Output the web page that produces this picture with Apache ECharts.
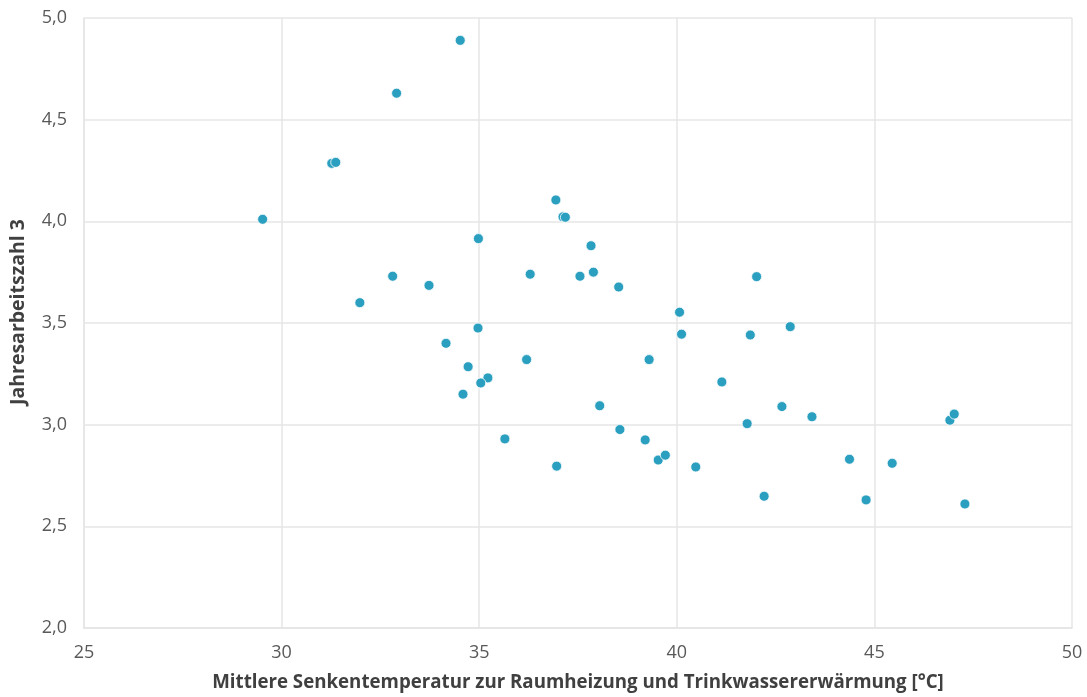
<!DOCTYPE html>
<html>
<head>
<meta charset="utf-8">
<script src="https://cdn.jsdelivr.net/npm/echarts@6/dist/echarts.min.js"></script>
<style>
html,body{margin:0;padding:0;background:#fff;}
#chart{width:1087px;height:697px;}
</style>
</head>
<body>
<div id="chart"></div>
<script>
// Mittlere Senkentemperatur [°C]
const xValues = [29.52,31.27,31.37,32.91,34.52,31.98,32.81,33.73,34.16,34.98,34.97,34.72,35.22,35.04,34.59,35.65,36.2,36.29,36.94,37.12,37.18,37.55,37.83,37.89,36.96,38.53,38.05,38.56,39.2,39.3,39.53,39.71,40.07,40.12,40.48,41.14,41.78,41.86,42.02,42.21,42.66,42.87,43.42,44.37,44.79,45.45,46.91,47.02,47.29];
// Jahresarbeitszahl 3
const yValues = [4.01,4.285,4.29,4.63,4.89,3.60,3.73,3.685,3.40,3.915,3.475,3.285,3.23,3.205,3.15,2.93,3.32,3.74,4.105,4.022,4.02,3.73,3.88,3.75,2.796,3.677,3.093,2.976,2.925,3.32,2.826,2.85,3.553,3.445,2.792,3.21,3.005,3.441,3.728,2.648,3.089,3.482,3.039,2.83,2.63,2.81,3.022,3.052,2.61];
const xAxisName = 'Mittlere Senkentemperatur zur Raumheizung und Trinkwassererwärmung [°C]';
const yAxisName = 'Jahresarbeitszahl 3';

const data = xValues.map((x, i) => [x, yValues[i]]);
const chart = echarts.init(document.getElementById('chart'), null, {renderer: 'canvas'});
const font = '"Open Sans", "Noto Sans", sans-serif';
chart.setOption({
  animation: false,
  grid: {left: 83, right: 15, top: 18, bottom: 62, containLabel: false},
  xAxis: {
    type: 'value', min: 25, max: 50, interval: 5,
    name: xAxisName, nameLocation: 'middle', nameGap: 45,
    nameTextStyle: {fontFamily: font, fontSize: 18.7, fontWeight: 'bold', color: '#404040'},
    axisLine: {show: true, lineStyle: {color: '#e3e3e3', width: 1.5}},
    axisTick: {show: false},
    axisLabel: {fontFamily: font, fontSize: 18, color: '#595959', margin: 16},
    splitLine: {show: true, lineStyle: {color: '#e6e6e6', width: 1.5}}
  },
  yAxis: {
    type: 'value', min: 2, max: 5, interval: 0.5,
    name: yAxisName, nameLocation: 'middle', nameGap: 56, nameRotate: 90,
    nameTextStyle: {fontFamily: font, fontSize: 19.5, fontWeight: 'bold', color: '#404040', padding: [0, 0, 0, 22]},
    axisLine: {show: true, lineStyle: {color: '#e6e6e6', width: 1.5}},
    axisTick: {show: false},
    axisLabel: {fontFamily: font, fontSize: 18, color: '#595959', margin: 17,
      formatter: v => v.toFixed(1).replace('.', ',')},
    splitLine: {show: true, lineStyle: {color: '#e6e6e6', width: 1.5}}
  },
  series: [{
    type: 'scatter',
    data: data,
    symbol: 'circle',
    symbolSize: 10,
    itemStyle: {color: '#2A9FBF', borderColor: '#ffffff', borderWidth: 0.8, opacity: 1}
  }]
});
</script>
</body>
</html>
